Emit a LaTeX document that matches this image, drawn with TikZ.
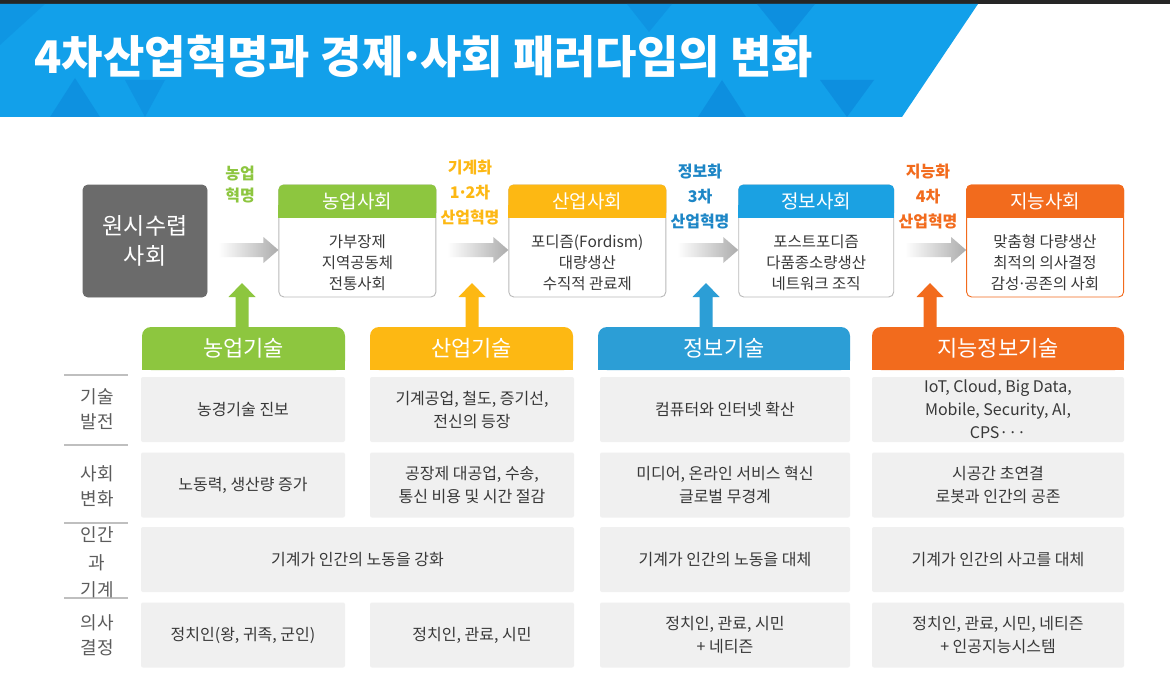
\documentclass[tikz,border=0pt]{standalone}
\usepackage{fontspec}
\setmainfont{Noto Sans CJK KR}
\usetikzlibrary{calc,positioning}
\definecolor{banner}{HTML}{12A0EA}
\definecolor{bannerdark}{HTML}{0B84D8}
\definecolor{agri}{HTML}{8DC63F}
\definecolor{indus}{HTML}{FDB813}
\definecolor{info}{HTML}{1BA1E2}
\definecolor{info2}{HTML}{2C9ED6}
\definecolor{intel}{HTML}{F26B1D}
\definecolor{infolabel}{HTML}{1D86C6}
\definecolor{primal}{HTML}{6B6B6B}
\definecolor{cellgray}{HTML}{F0F0F0}
\definecolor{celltext}{HTML}{383838}
\definecolor{rowtext}{HTML}{5C5C5C}
\newcommand\setfs[2]{\fontsize{#1}{#2}\selectfont}
\newcommand\mdot{\kern-.12em·\kern-.12em}

\begin{document}
\begin{tikzpicture}[x=1pt, y=-1pt,
  society/.style={draw=gray!55, fill=white, line width=0.9pt, rounded corners=5pt,
    minimum width=157pt, minimum height=112pt, inner sep=0pt},
  headtext/.style={text=white, font=\setfs{19}{19}},
  bodytext/.style={text=celltext, align=center, font=\setfs{15.5}{21}},
  revlabel/.style={align=center, font=\bfseries\setfs{16}{25}},
  techtext/.style={text=white, font=\setfs{22}{22}, minimum height=43pt, inner sep=0pt},
  flowarrow/.style={left color=white, right color=gray!65},
  cell/.style={fill=cellgray, rounded corners=2pt, minimum height=65pt, inner sep=0pt,
    align=center, text=celltext, font=\setfs{16}{23}},
  rowlabel/.style={align=center, text=rowtext, font=\setfs{18}{25}},
  rowline/.style={draw=gray!50, line width=1.2pt}]
\useasboundingbox (0,0) rectangle (1170,690);
\fill[white] (0,0) rectangle (1170,690);

% title banner
\fill[black!85] (0,0) rectangle (1170,4);
\fill[banner] (0,4) -- (978,4) -- (902,117) -- (0,117) -- cycle;
\begin{scope}
  \clip (0,4) -- (978,4) -- (902,117) -- (0,117) -- cycle;
  \fill[bannerdark, opacity=.35] (0,4) -- (45,4) -- (0,45) -- cycle;
  \fill[bannerdark, opacity=.5] (50,117) -- (100,117) -- (75,78) -- cycle;
  \fill[bannerdark, opacity=.4] (125,80) -- (165,80) -- (145,117) -- cycle;
  \fill[bannerdark, opacity=.4] (627,4) -- (672,4) -- (649,32) -- cycle;
  \fill[bannerdark, opacity=.6] (757,4) -- (815,4) -- (786,40) -- cycle;
  \fill[bannerdark, opacity=.6] (698,117) -- (746,117) -- (722,80) -- cycle;
  \fill[bannerdark, opacity=.6] (820,80) -- (874,80) -- (847,117) -- cycle;
\end{scope}
\node[anchor=west, text=white, font=\bfseries\setfs{45}{45}] (title) at (31,57)
  {4차산업혁명과 경제\mdot 사회 패러다임의 변화};

% societies
\node[society, fill=primal, draw=primal, minimum width=124pt, text=white, align=center,
  font=\setfs{23}{30}] (s0) at (145,241) {원시수렵\\사회};
\node[society, right=71pt of s0] (s1) {};
\node[society, right=72pt of s1] (s2) {};
\node[society, right=72pt of s2, minimum width=155pt] (s3) {};
\node[society, right=72pt of s3, draw=intel] (s4) {};

\foreach \s/\clr/\tx/\bd in {s1/agri/농업사회/{가부장제\\지역공동체\\전통사회},
    s2/indus/산업사회/{포디즘(Fordism)\\대량생산\\수직적 관료제},
    s3/info/정보사회/{포스트포디즘\\다품종소량생산\\네트워크 조직},
    s4/intel/지능사회/{맞춤형 다량생산\\최적의 의사결정\\감성\mdot 공존의 사회}} {
  \fill[\clr, rounded corners=5pt] (\s.north west) rectangle ($(\s.north east)+(0,33)$);
  \fill[\clr] ($(\s.north west)+(0,20)$) rectangle ($(\s.north east)+(0,33)$);
  \node[headtext] (h\s) at ($(\s.north)+(0,17)$) {\tx};
  \node[bodytext] (b\s) at ($(\s.south)+(0,-35)$) {\bd};
}

% flow arrows
\foreach \a/\b in {s0/s1, s1/s2, s2/s3, s3/s4}
  \shade[flowarrow] let \p1=(\a.east), \p2=(\b.west) in
    (\x1+11,243) -- (\x2-15,243) -- (\x2-15,237) -- (\x2,250)
    -- (\x2-15,263) -- (\x2-15,257) -- (\x1+11,257) -- cycle;

% revolutions
\node[revlabel, text=agri, font=\bfseries\setfs{16}{22}] (l1) at (240,185) {농업\\혁명};
\node[revlabel, text=indus] (l2) at (470,193) {기계화\\1\mdot 2차\\산업혁명};
\node[revlabel, text=infolabel] (l3) at (700,197) {정보화\\3차\\산업혁명};
\node[revlabel, text=intel] (l4) at (928,197) {지능화\\4차\\산업혁명};

% technologies
\foreach \tn/\xa/\xb/\clr/\tx in {t1/142/345/agri/농업기술, t2/370/573/indus/산업기술,
    t3/598/850/info2/정보기술, t4/872/1124/intel/지능정보기술} {
  \fill[\clr, rounded corners=9pt] (\xa,327) rectangle (\xb,370);
  \fill[\clr] (\xa,350) rectangle (\xb,370);
  \node[techtext] (\tn) at ({(\xa+\xb)/2},348.5) {\tx};
}
\foreach \tn/\px/\clr in {t1/242/agri, t2/472/indus, t3/706/info2, t4/930/intel}
  \fill[\clr] let \p1=(\tn.north) in (\px-6.5,\y1) -- (\px-6.5,297) -- (\px-13.5,297)
    -- (\px,283) -- (\px+13.5,297) -- (\px+6.5,297) -- (\px+6.5,\y1) -- cycle;

% table
\foreach \ry in {375, 445, 523, 598}
  \draw[rowline] (64,\ry) -- (128,\ry);
\node[rowlabel] (r1) at (97,409.5) {기술\\발전};
\node[rowlabel] (r2) at (97,486) {사회\\변화};
\node[rowlabel, font=\setfs{18}{27.5}] (r3) at (97,562.5) {인간\\과\\기계};
\node[rowlabel] (r4) at (97,635) {의사\\결정};

\foreach \cn/\cx/\cw/\tx in {a1/243/204/농경기술 진보,
    a2/472/204/{기계공업, 철도, 증기선,\\전신의 등장},
    a3/725/250/컴퓨터와 인터넷 확산,
    a4/998/252/{IoT, Cloud, Big Data,\\Mobile, Security, AI,\\CPS···}}
  \node[cell, minimum width=\cw pt] (\cn) at (\cx,409.5) {\tx};
\foreach \cn/\cx/\cw/\tx in {b1/243/204/{노동력, 생산량 증가},
    b2/472/204/{공장제 대공업, 수송,\\통신 비용 및 시간 절감},
    b3/725/250/{미디어, 온라인 서비스 혁신\\글로벌 무경계},
    b4/998/252/{시공간 초연결\\로봇과 인간의 공존}}
  \node[cell, minimum width=\cw pt] (\cn) at (\cx,485) {\tx};
\foreach \cn/\cx/\cw/\tx in {c1/357.5/433/기계가 인간의 노동을 강화,
    c3/725/250/기계가 인간의 노동을 대체,
    c4/998/252/기계가 인간의 사고를 대체}
  \node[cell, minimum width=\cw pt] (\cn) at (\cx,559.5) {\tx};
\foreach \cn/\cx/\cw/\tx in {d1/243/204/{정치인(왕, 귀족, 군인)},
    d2/472/204/{정치인, 관료, 시민},
    d3/725/250/{정치인, 관료, 시민\\+ 네티즌},
    d4/998/252/{정치인, 관료, 시민, 네티즌\\+ 인공지능시스템}}
  \node[cell, minimum width=\cw pt] (\cn) at (\cx,635) {\tx};
\end{tikzpicture}
\end{document}
